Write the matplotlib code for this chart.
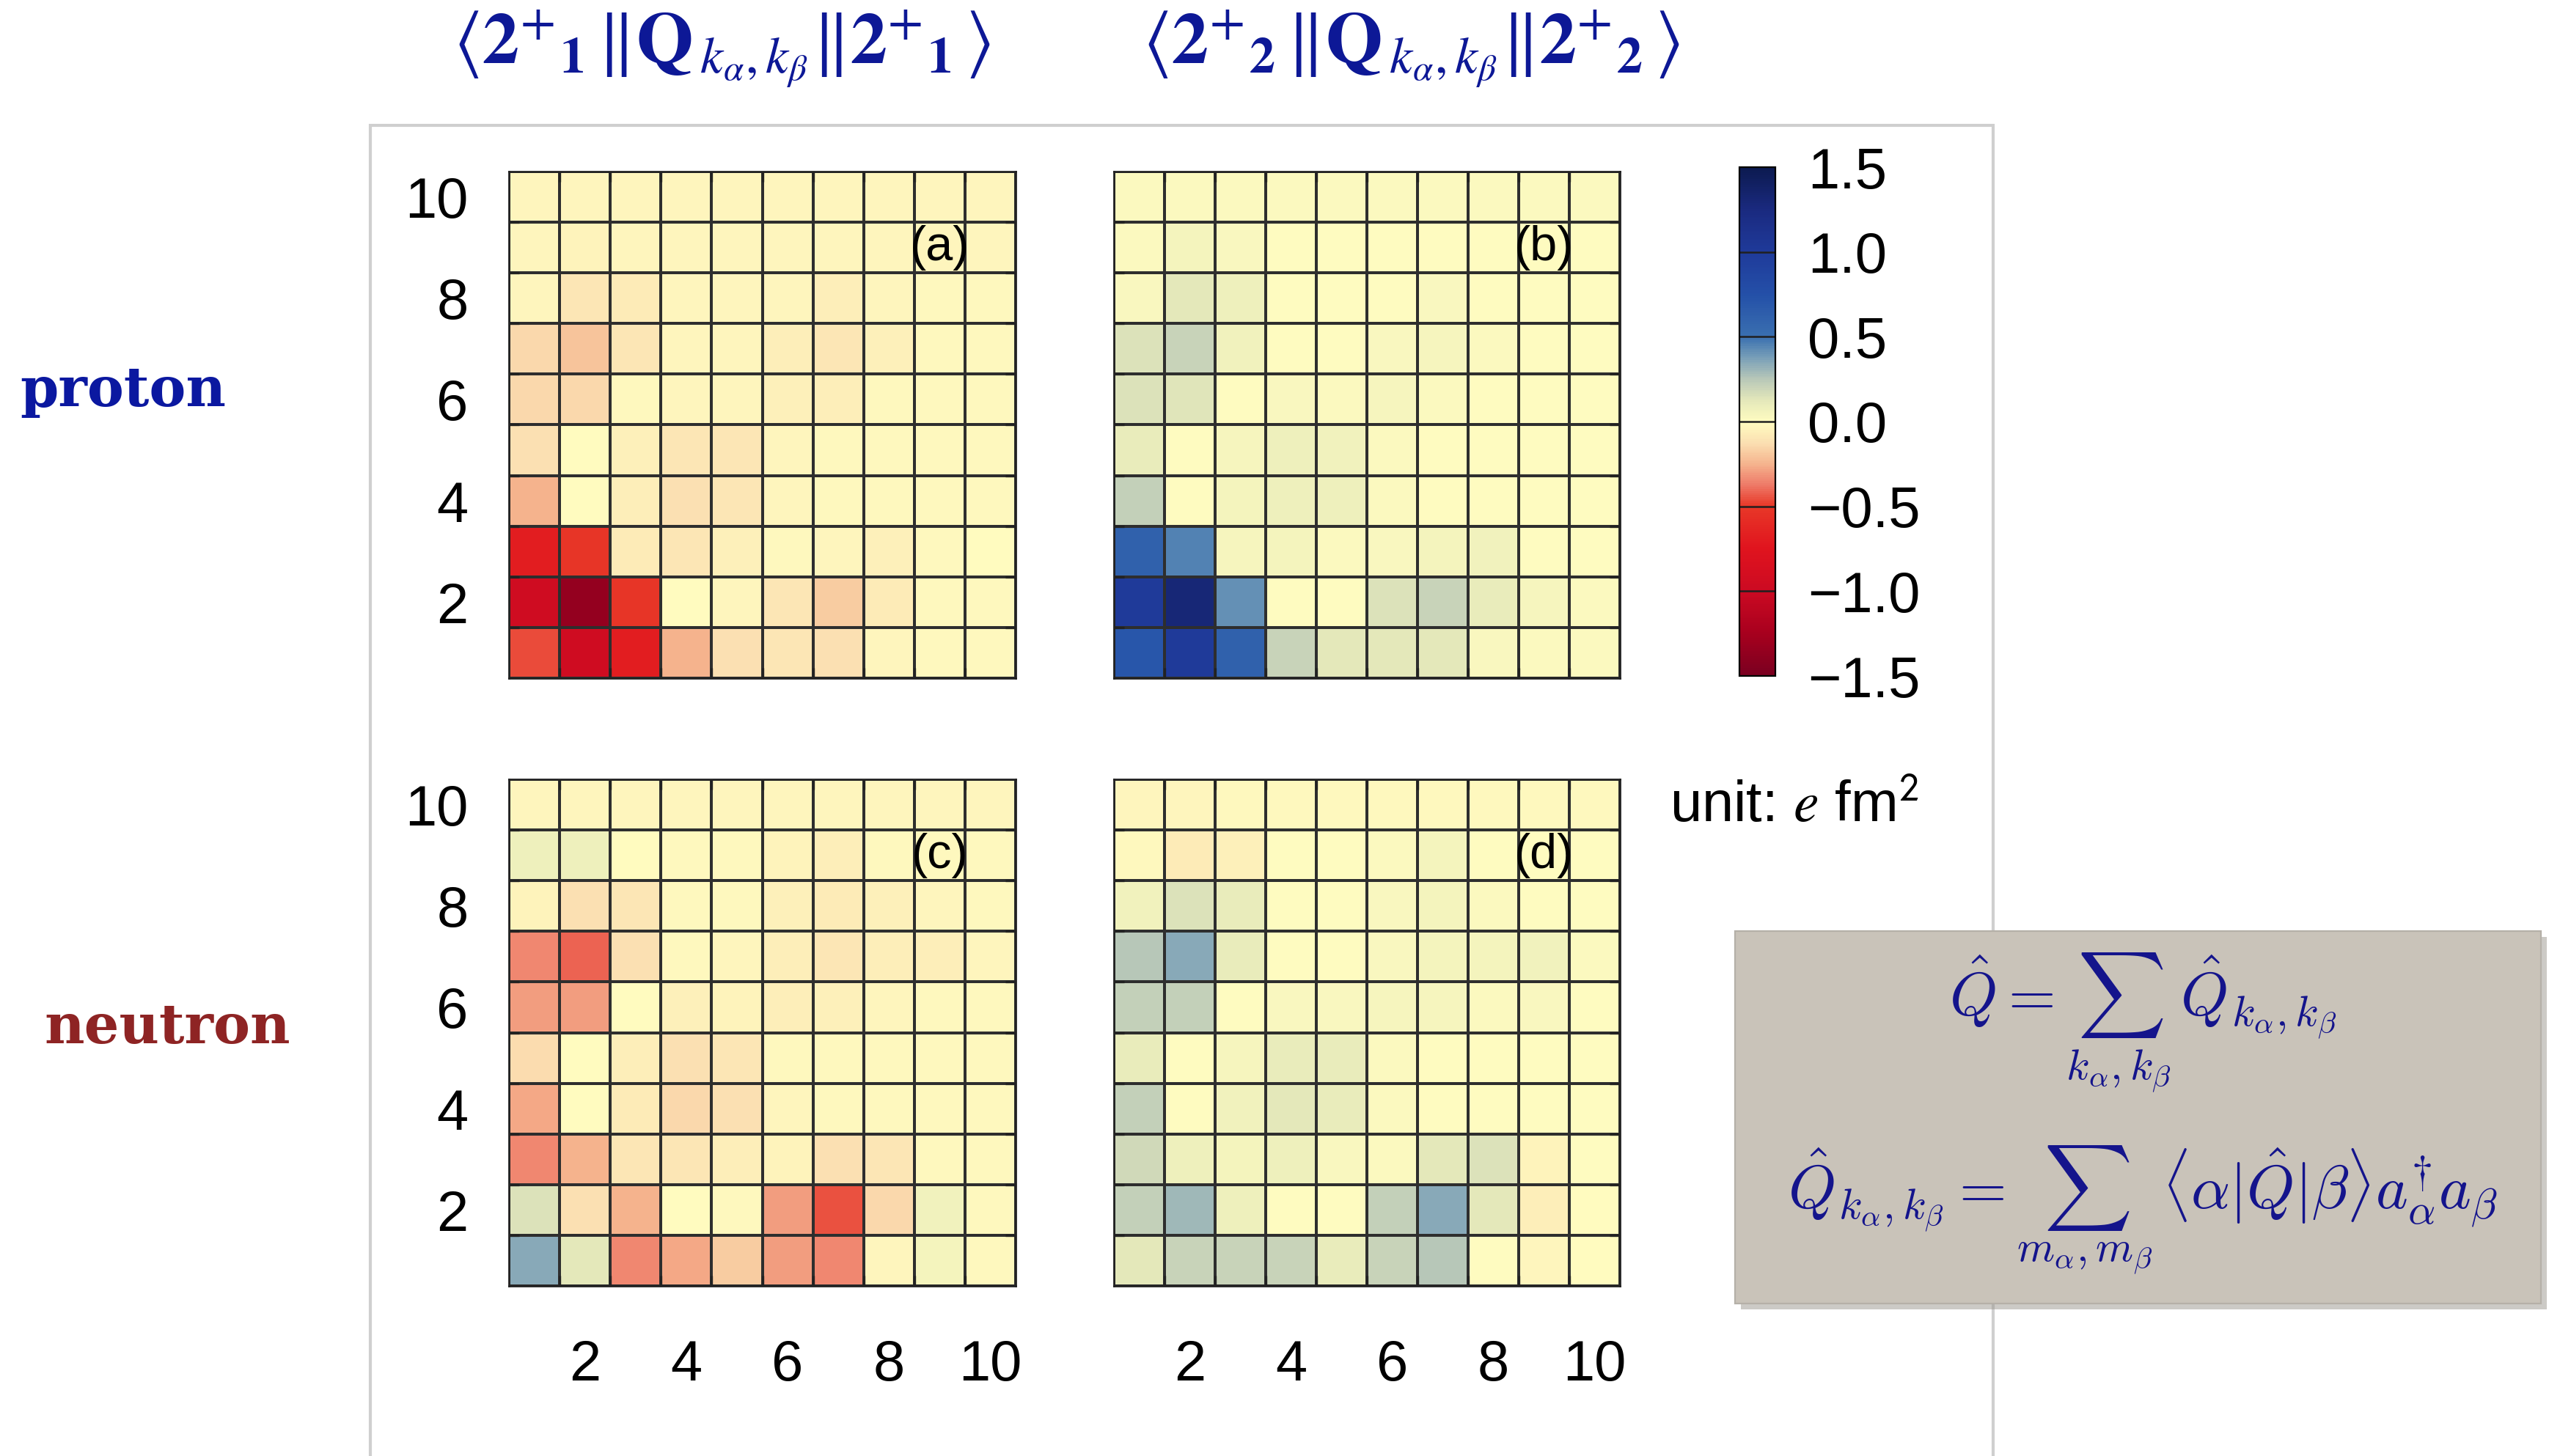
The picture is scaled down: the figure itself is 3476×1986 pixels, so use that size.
import numpy as np
import matplotlib.pyplot as plt
from matplotlib.colors import LinearSegmentedColormap
from matplotlib.patches import Rectangle

plt.rcParams['font.family'] = ['Liberation Sans', 'DejaVu Sans']

W, H = 3476, 1986

k_ticks = [2, 4, 6, 8, 10]
cbar_ticks = [-1.5, -1.0, -0.5, 0.0, 0.5, 1.0, 1.5]
cbar_labels = ['\u22121.5', '\u22121.0', '\u22120.5', '0.0', '0.5', '1.0', '1.5']

# rows run from k_beta = 10 (top) down to k_beta = 1, columns k_alpha = 1..10
proton_21 = [
    [-0.03, -0.03, -0.03, -0.03, -0.03, -0.03, -0.03, -0.03, -0.03, -0.03],
    [-0.03, -0.04, -0.03, -0.03, -0.03, -0.03, -0.03, -0.03, -0.03, -0.03],
    [-0.03, -0.10, -0.08, -0.03, -0.03, -0.03, -0.06, -0.03, -0.02, -0.02],
    [-0.15, -0.20, -0.10, -0.03, -0.03, -0.07, -0.10, -0.05, -0.02, -0.02],
    [-0.15, -0.15, -0.02, -0.03, -0.03, -0.05, -0.07, -0.02, -0.02, -0.02],
    [-0.12, -0.01, -0.05, -0.10, -0.10, -0.03, -0.02, -0.02, -0.02, -0.02],
    [-0.25, -0.01, -0.06, -0.12, -0.10, -0.03, -0.02, -0.02, -0.02, -0.02],
    [-0.68, -0.52, -0.08, -0.10, -0.05, -0.02, -0.03, -0.05, -0.02, -0.01],
    [-0.95, -1.35, -0.52, -0.01, -0.03, -0.10, -0.18, -0.08, -0.02, -0.02],
    [-0.46, -0.95, -0.68, -0.25, -0.12, -0.10, -0.12, -0.03, -0.02, -0.02],
]
proton_22 = [
    [0.02, 0.02, 0.02, 0.02, 0.02, 0.02, 0.02, 0.02, 0.02, 0.02],
    [0.02, 0.05, 0.03, 0.01, 0.01, 0.01, 0.01, 0.01, 0.01, 0.01],
    [0.03, 0.12, 0.08, 0.01, 0.01, 0.01, 0.03, 0.01, 0.01, 0.01],
    [0.15, 0.20, 0.06, 0.01, 0.01, 0.03, 0.04, 0.02, 0.01, 0.01],
    [0.15, 0.14, 0.01, 0.03, 0.02, 0.04, 0.02, 0.01, 0.01, 0.01],
    [0.10, 0.00, 0.04, 0.08, 0.07, 0.02, 0.01, 0.01, 0.01, 0.01],
    [0.22, 0.00, 0.05, 0.08, 0.08, 0.02, 0.01, 0.01, 0.01, 0.01],
    [0.62, 0.45, 0.04, 0.05, 0.02, 0.03, 0.05, 0.07, 0.01, 0.01],
    [1.00, 1.30, 0.42, 0.00, 0.01, 0.15, 0.20, 0.10, 0.04, 0.02],
    [0.70, 1.00, 0.62, 0.20, 0.12, 0.12, 0.12, 0.03, 0.02, 0.02],
]
neutron_21 = [
    [-0.03, -0.03, -0.03, -0.03, -0.03, -0.03, -0.03, -0.03, -0.03, -0.03],
    [0.08, 0.08, -0.01, -0.02, -0.02, -0.04, -0.06, -0.02, -0.02, -0.02],
    [-0.04, -0.12, -0.10, -0.02, -0.02, -0.05, -0.08, -0.05, -0.03, -0.02],
    [-0.35, -0.42, -0.12, -0.02, -0.03, -0.06, -0.10, -0.06, -0.06, -0.03],
    [-0.30, -0.30, -0.01, -0.05, -0.04, -0.06, -0.05, -0.03, -0.02, -0.02],
    [-0.13, -0.01, -0.06, -0.12, -0.10, -0.02, -0.02, -0.02, -0.02, -0.02],
    [-0.27, -0.01, -0.08, -0.15, -0.12, -0.03, -0.02, -0.02, -0.02, -0.02],
    [-0.35, -0.25, -0.10, -0.10, -0.07, -0.04, -0.12, -0.10, -0.02, -0.02],
    [0.15, -0.12, -0.25, -0.01, -0.02, -0.30, -0.45, -0.15, 0.06, -0.02],
    [0.35, 0.12, -0.35, -0.28, -0.18, -0.30, -0.35, -0.03, 0.05, -0.02],
]
neutron_22 = [
    [-0.03, -0.03, -0.02, -0.02, -0.02, -0.02, -0.02, -0.02, -0.02, -0.02],
    [-0.02, -0.08, -0.05, 0.00, 0.00, 0.02, 0.05, 0.00, 0.00, 0.00],
    [0.06, 0.15, 0.10, 0.01, 0.01, 0.03, 0.05, 0.02, 0.01, 0.01],
    [0.25, 0.35, 0.10, 0.01, 0.01, 0.03, 0.05, 0.05, 0.06, 0.02],
    [0.22, 0.22, 0.01, 0.03, 0.03, 0.04, 0.04, 0.02, 0.03, 0.01],
    [0.10, 0.00, 0.04, 0.10, 0.10, 0.02, 0.01, 0.01, 0.01, 0.00],
    [0.22, 0.00, 0.06, 0.12, 0.10, 0.02, 0.00, 0.00, 0.00, 0.00],
    [0.18, 0.08, 0.05, 0.08, 0.03, 0.02, 0.12, 0.15, -0.04, 0.00],
    [0.22, 0.30, 0.08, 0.00, 0.00, 0.22, 0.35, 0.12, -0.06, -0.01],
    [0.12, 0.20, 0.20, 0.20, 0.10, 0.20, 0.25, 0.00, -0.03, -0.01],
]

# red -> pale yellow -> blue, on a -1.5..1.5 scale
cmap_nodes = [
    (-1.5, '#7a0020'), (-1.25, '#a8001e'), (-1.0, '#cc0a22'), (-0.75, '#e0141e'),
    (-0.5, '#e83828'), (-0.375, '#ee7a68'), (-0.25, '#f5b48e'), (-0.125, '#fbe0b2'),
    (0.0, '#fffcc0'), (0.125, '#e4e8ba'), (0.25, '#b8c8b8'), (0.375, '#7aa0b8'),
    (0.5, '#3a70b0'), (0.75, '#2450a8'), (1.0, '#1f3a9a'), (1.25, '#1a2a80'),
    (1.5, '#0c1a50'),
]
cmap = LinearSegmentedColormap.from_list(
    'rdylbu_q', [((v + 1.5) / 3.0, c) for v, c in cmap_nodes])

fig = plt.figure(figsize=(W / 200, H / 200), dpi=200)


def px_axes(x0, y0, x1, y1, **kw):
    return fig.add_axes([x0 / W, 1 - y1 / H, (x1 - x0) / W, (y1 - y0) / H], **kw)


# white slide panel behind the plots
fig.patches.append(Rectangle((505 / W, -0.01), (2718 - 505) / W, 1 - 171 / H + 0.01,
                             transform=fig.transFigure, facecolor='white',
                             edgecolor='#cfcfcf', linewidth=1.5, zorder=-5))

edges = np.arange(0.5, 11, 1)
panels = [
    (proton_21, '(a)', (694, 234, 1385, 925), True, False),
    (proton_22, '(b)', (1519, 234, 2209, 925), False, False),
    (neutron_21, '(c)', (694, 1063, 1385, 1754), True, True),
    (neutron_22, '(d)', (1519, 1063, 2209, 1754), False, True),
]
for data, tag, box, show_y, show_x in panels:
    ax = px_axes(*box)
    mesh = ax.pcolormesh(edges, edges, np.flipud(np.array(data)), cmap=cmap,
                         vmin=-1.5, vmax=1.5, edgecolors='#2e2e2e', linewidth=0.8)
    ax.set_xlim(0.5, 10.5)
    ax.set_ylim(0.5, 10.5)
    ax.set_xticks(k_ticks)
    ax.set_yticks(k_ticks)
    ax.set_xticks(np.arange(1.5, 10, 1), minor=True)
    ax.set_yticks(np.arange(1.5, 10, 1), minor=True)
    ax.tick_params(which='major', length=0, labelsize=28,
                   labelleft=show_y, labelbottom=show_x)
    ax.tick_params(axis='x', which='major', pad=26)
    ax.tick_params(axis='y', which='major', pad=20)
    ax.tick_params(which='minor', direction='in', length=5, width=1.2,
                   top=True, right=True, bottom=True, left=True, color='#222222')
    for s in ax.spines.values():
        s.set_linewidth(1.0)
        s.set_color('#222222')
    ax.text(9, 9, tag, ha='center', va='center', fontsize=24)

# colour bar
cax = px_axes(2372, 228, 2421, 922)
cb = fig.colorbar(mesh, cax=cax, ticks=cbar_ticks)
cb.set_ticklabels(cbar_labels)
cb.ax.tick_params(length=0, labelsize=28, pad=16)
cb.outline.set_linewidth(0.8)
for v in cbar_ticks[1:-1]:
    cax.axhline(v, color='#202020', linewidth=0.9)

fig.text(2277 / W, 1 - 1100 / H, 'unit: $e$ fm$^{\\mathsf{2}}$', fontsize=28,
         ha='left', va='center', math_fontfamily='stix')

# column headings
title_kw = dict(fontsize=36, color='#0d1896', ha='center', va='center', math_fontfamily='stix')
fig.text(984 / W, 1 - 67 / H,
         r'$\langle\mathbf{2}^{+}{}_{\mathbf{1}}\,\Vert\mathbf{Q}_{\,k_{\alpha},k_{\beta}}\Vert\mathbf{2}^{+}{}_{\mathbf{1}}\,\rangle$',
         **title_kw)
fig.text(1924 / W, 1 - 67 / H,
         r'$\langle\mathbf{2}^{+}{}_{\mathbf{2}}\,\Vert\mathbf{Q}_{\,k_{\alpha},k_{\beta}}\Vert\mathbf{2}^{+}{}_{\mathbf{2}}\,\rangle$',
         **title_kw)

# row headings
fig.text(168 / W, 1 - 534 / H, 'proton', fontsize=27, fontweight='bold',
         family='DejaVu Serif', color='#0b18a0', ha='center', va='center')
fig.text(228 / W, 1 - 1403 / H, 'neutron', fontsize=27, fontweight='bold',
         family='DejaVu Serif', color='#8e2424', ha='center', va='center')

# operator definitions box
fig.patches.append(Rectangle((2374 / W, 1 - 1786 / H), (3465 - 2366) / W, (1778 - 1270) / H,
                             transform=fig.transFigure, facecolor='#9a968f',
                             edgecolor='none', alpha=0.5, zorder=2))
fig.patches.append(Rectangle((2366 / W, 1 - 1778 / H), (3465 - 2366) / W, (1778 - 1270) / H,
                             transform=fig.transFigure, facecolor='#c9c3b9',
                             edgecolor='#b5b0a8', linewidth=0.8, zorder=3))
eq_kw = dict(fontsize=30, color='#14148c', ha='center', va='center',
             math_fontfamily='cm', zorder=4)
fig.text(2922 / W, 1 - 1395 / H,
         r'$\hat{Q} = \sum_{k_\alpha,k_\beta}\,\hat{Q}_{k_\alpha,k_\beta}$', **eq_kw)
fig.text(2922 / W, 1 - 1650 / H,
         r'$\hat{Q}_{k_\alpha,k_\beta} = \sum_{m_\alpha,m_\beta}\,\langle\alpha|\hat{Q}|\beta\rangle a^{\dagger}_{\alpha}a_{\beta}$',
         **eq_kw)

fig.savefig('out.png', dpi=200)
